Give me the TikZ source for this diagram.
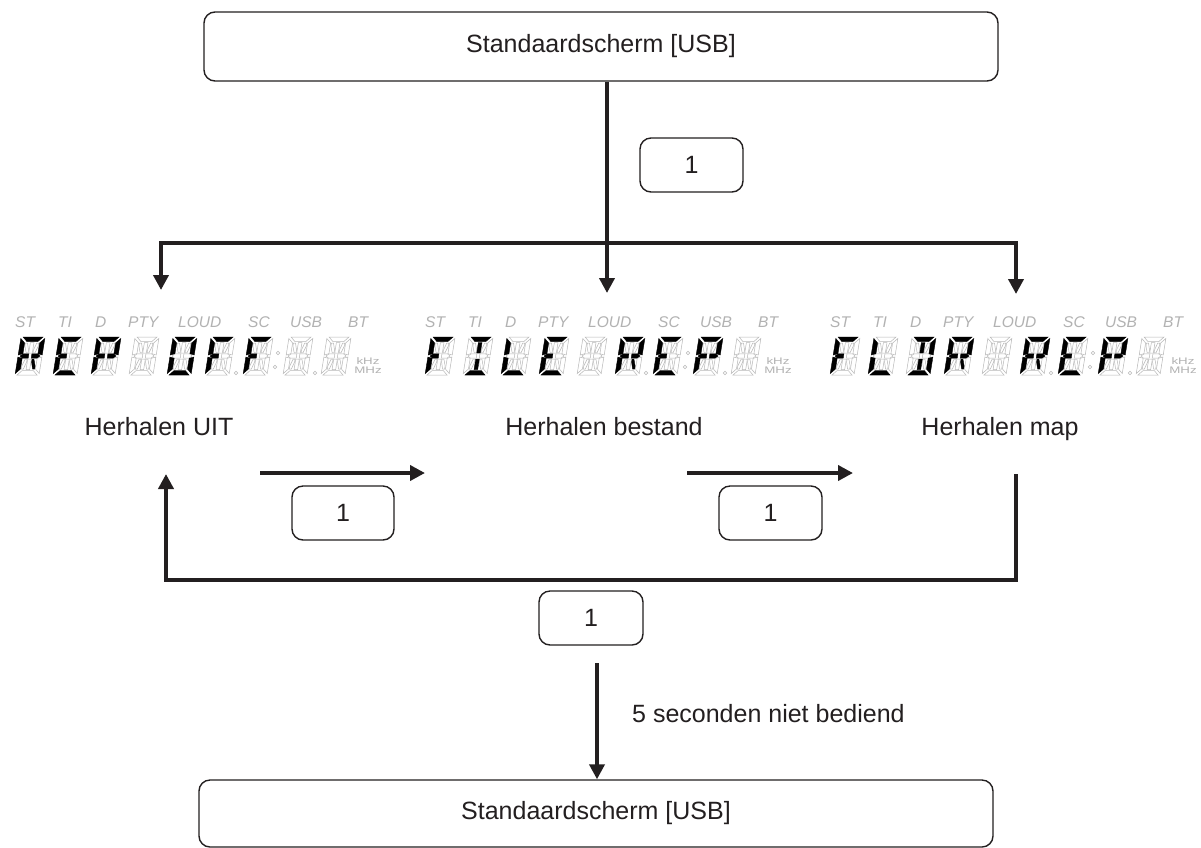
\documentclass[tikz,border=0pt]{standalone}
\usepackage{fontspec}
\setmainfont{Liberation Sans}
\usepackage{graphicx}
\usetikzlibrary{arrows.meta}
\definecolor{ink}{HTML}{231F20}
\tikzset{
 segoff/.style={draw=black!28, line width=0.5pt, fill=white},
 segon/.style={fill=black, draw=black, line width=0.3pt},
 box/.style={draw=ink, line width=1.4pt, rounded corners=11pt, inner sep=0pt, font=\fontsize{25}{30}\selectfont, text=ink},
 txt/.style={font=\fontsize{25}{30}\selectfont, text=ink, inner sep=0pt},
 conn/.style={draw=ink, line width=4.5pt},
 arr/.style={conn, -{Triangle[length=15pt,width=15pt]}},
 lbl/.style={font=\fontsize{15.5}{16}\selectfont\itshape, text=black!30, inner sep=0pt, anchor=base west},
 unit/.style={font=\fontsize{9.5}{10}\selectfont, text=black!30, inner sep=0pt},
}
% 14-segment pieces (local units, y up, digit 24 x 38)
\newcommand\zsa[1][segon]{\path[#1] (2,38)--(22,38)--(17.5,33.5)--(6.5,33.5)--cycle;}
\newcommand\zsd[1][segon]{\path[#1] (2,0)--(22,0)--(17.5,4.5)--(6.5,4.5)--cycle;}
\newcommand\zsf[1][segon]{\path[#1] (0,36.5)--(4.5,32)--(4.5,21.3)--(0,20)--cycle;}
\newcommand\zse[1][segon]{\path[#1] (0,18)--(4.5,16.7)--(4.5,6)--(0,1.5)--cycle;}
\newcommand\zsb[1][segon]{\path[#1] (24,36.5)--(19.5,32)--(19.5,21.3)--(24,20)--cycle;}
\newcommand\zsc[1][segon]{\path[#1] (24,18)--(19.5,16.7)--(19.5,6)--(24,1.5)--cycle;}
\newcommand\zsg[1][segon]{\path[#1] (2,19)--(4.8,21.2)--(10.5,21.2)--(10.5,16.8)--(4.8,16.8)--cycle;}
\newcommand\zsG[1][segon]{\path[#1] (22,19)--(19.2,21.2)--(13.5,21.2)--(13.5,16.8)--(19.2,16.8)--cycle;}
\newcommand\zsi[1][segon]{\path[#1] (10.2,32.5)--(13.8,32.5)--(13.8,22)--(10.2,22)--cycle;}
\newcommand\zsl[1][segon]{\path[#1] (10.2,5.5)--(13.8,5.5)--(13.8,16)--(10.2,16)--cycle;}
\newcommand\zsh[1][segon]{\path[#1] (5.3,32)--(7.4,32)--(9.5,25)--(9.5,22.2)--(7.6,22.2)--(5.3,29)--cycle;}
\newcommand\zsj[1][segon]{\path[#1] (18.7,32)--(16.6,32)--(14.5,25)--(14.5,22.2)--(16.4,22.2)--(18.7,29)--cycle;}
\newcommand\zsk[1][segon]{\path[#1] (5.3,6)--(7.4,6)--(9.5,13)--(9.5,15.8)--(7.6,15.8)--(5.3,9)--cycle;}
\newcommand\zsm[1][segon]{\path[#1] (18.7,6)--(16.6,6)--(14.5,13)--(14.5,15.8)--(16.4,15.8)--(18.7,9)--cycle;}
\newcommand\zsall{\zsa[segoff]\zsb[segoff]\zsc[segoff]\zsd[segoff]\zse[segoff]\zsf[segoff]\zsg[segoff]\zsG[segoff]\zsh[segoff]\zsi[segoff]\zsj[segoff]\zsk[segoff]\zsl[segoff]\zsm[segoff]}
% letters
\newcommand\dgR{\zsa\zsb\zsf\zse\zsg\zsG\zsm}
\newcommand\dgE{\zsa\zsf\zse\zsd\zsg}
\newcommand\dgP{\zsa\zsb\zsf\zse\zsg\zsG}
\newcommand\dgO{\zsa\zsb\zsc\zsd\zse\zsf}
\newcommand\dgF{\zsa\zsf\zse\zsg}
\newcommand\dgI{\zsa\zsd\zsi\zsl}
\newcommand\dgL{\zsf\zse\zsd}
\newcommand\dgD{\zsa\zsb\zsc\zsd\zsi\zsl}
\newcommand\sdigit[2]{\begin{scope}[shift={(#1pt,-375pt)},x=1pt,y=1pt,xslant=0.16]\zsall#2\end{scope}}
\newcommand\lcddisplay[9]{%
 \foreach \t/\x in {ST/15,TI/58,D/95,PTY/128,LOUD/178,SC/248,USB/290,BT/348}
   \node[lbl] (lb\t) at (\x,327) {\t};
 \sdigit{15}{#1}\sdigit{53}{#2}\sdigit{91}{#3}\sdigit{129}{#4}\sdigit{167}{#5}%
 \sdigit{205}{#6}\sdigit{243}{#7}\sdigit{283}{#8}\sdigit{321}{#9}%
 \foreach \a/\b in {236/373,278/353,275/367,315/373}
   \path[segoff] (\a,\b) circle (1.8pt);
 \node[unit] (khz) at (368,361) {\scalebox{1.4}[1]{kHz}};
 \node[unit] (mhz) at (368,370) {\scalebox{1.4}[1]{MHz}};
}
\begin{document}
\begin{tikzpicture}[x=1pt,y=-1pt]
\path[use as bounding box, fill=white] (0,0) rectangle (1201,847);

% boxes
\node[box, minimum width=794pt, minimum height=69pt] (top) at (601,46.5) {Standaardscherm [USB]};
\node[box, minimum width=103pt, minimum height=54pt] (k1) at (691.5,165) {1};
\node[box, minimum width=102pt, minimum height=54pt] (k2) at (343,513) {1};
\node[box, minimum width=103pt, minimum height=54pt] (k3) at (770.5,513) {1};
\node[box, minimum width=104pt, minimum height=54pt] (k4) at (591,618) {1};
\node[box, minimum width=794pt, minimum height=67pt] (bot) at (596,813.5) {Standaardscherm [USB]};

% displays
\begin{scope}[shift={(0pt,0pt)}, name prefix=d1-]
 \lcddisplay{\dgR}{\dgE}{\dgP}{}{\dgO}{\dgF}{\dgF}{}{}
\end{scope}
\begin{scope}[shift={(410pt,0pt)}, name prefix=d2-]
 \lcddisplay{\dgF}{\dgI}{\dgL}{\dgE}{}{\dgR}{\dgE}{\dgP}{}
\end{scope}
\begin{scope}[shift={(815pt,0pt)}, name prefix=d3-]
 \lcddisplay{\dgF}{\dgL}{\dgD}{\dgR}{}{\dgR}{\dgE}{\dgP}{}
\end{scope}

% captions
\node[txt, anchor=base] (m1) at (159,435) {Herhalen UIT};
\node[txt, anchor=base] (m2) at (604,435) {Herhalen bestand};
\node[txt, anchor=base] (m3) at (1000,435) {Herhalen map};
\node[txt, anchor=base west] (wait) at (632,722) {5 seconden niet bediend};

% connectors
\coordinate (split) at (607,243);
\coordinate (d1in) at (161,290);
\coordinate (d2in) at (607,293);
\coordinate (d3in) at (1016,294);
\draw[conn, {Triangle[length=15pt,width=15pt]}-{Triangle[length=15pt,width=15pt]}] (d1in) |- (split) -| (d3in);
\draw[arr] (top.south -| split) -- (d2in);

\coordinate (h1s) at (260,473); \coordinate (h1e) at (425,473);
\coordinate (h2s) at (687,473); \coordinate (h2e) at (853,473);
\draw[arr] (h1s) -- (h1e);
\draw[arr] (h2s) -- (h2e);

\coordinate (l1) at (1016,474); \coordinate (lb) at (591,580); \coordinate (l2) at (166,474);
\draw[arr] (l1) |- (lb) -| (l2);

\coordinate (b1) at (597,663);
\draw[arr] (b1) -- (bot.north -| b1);
\end{tikzpicture}
\end{document}
